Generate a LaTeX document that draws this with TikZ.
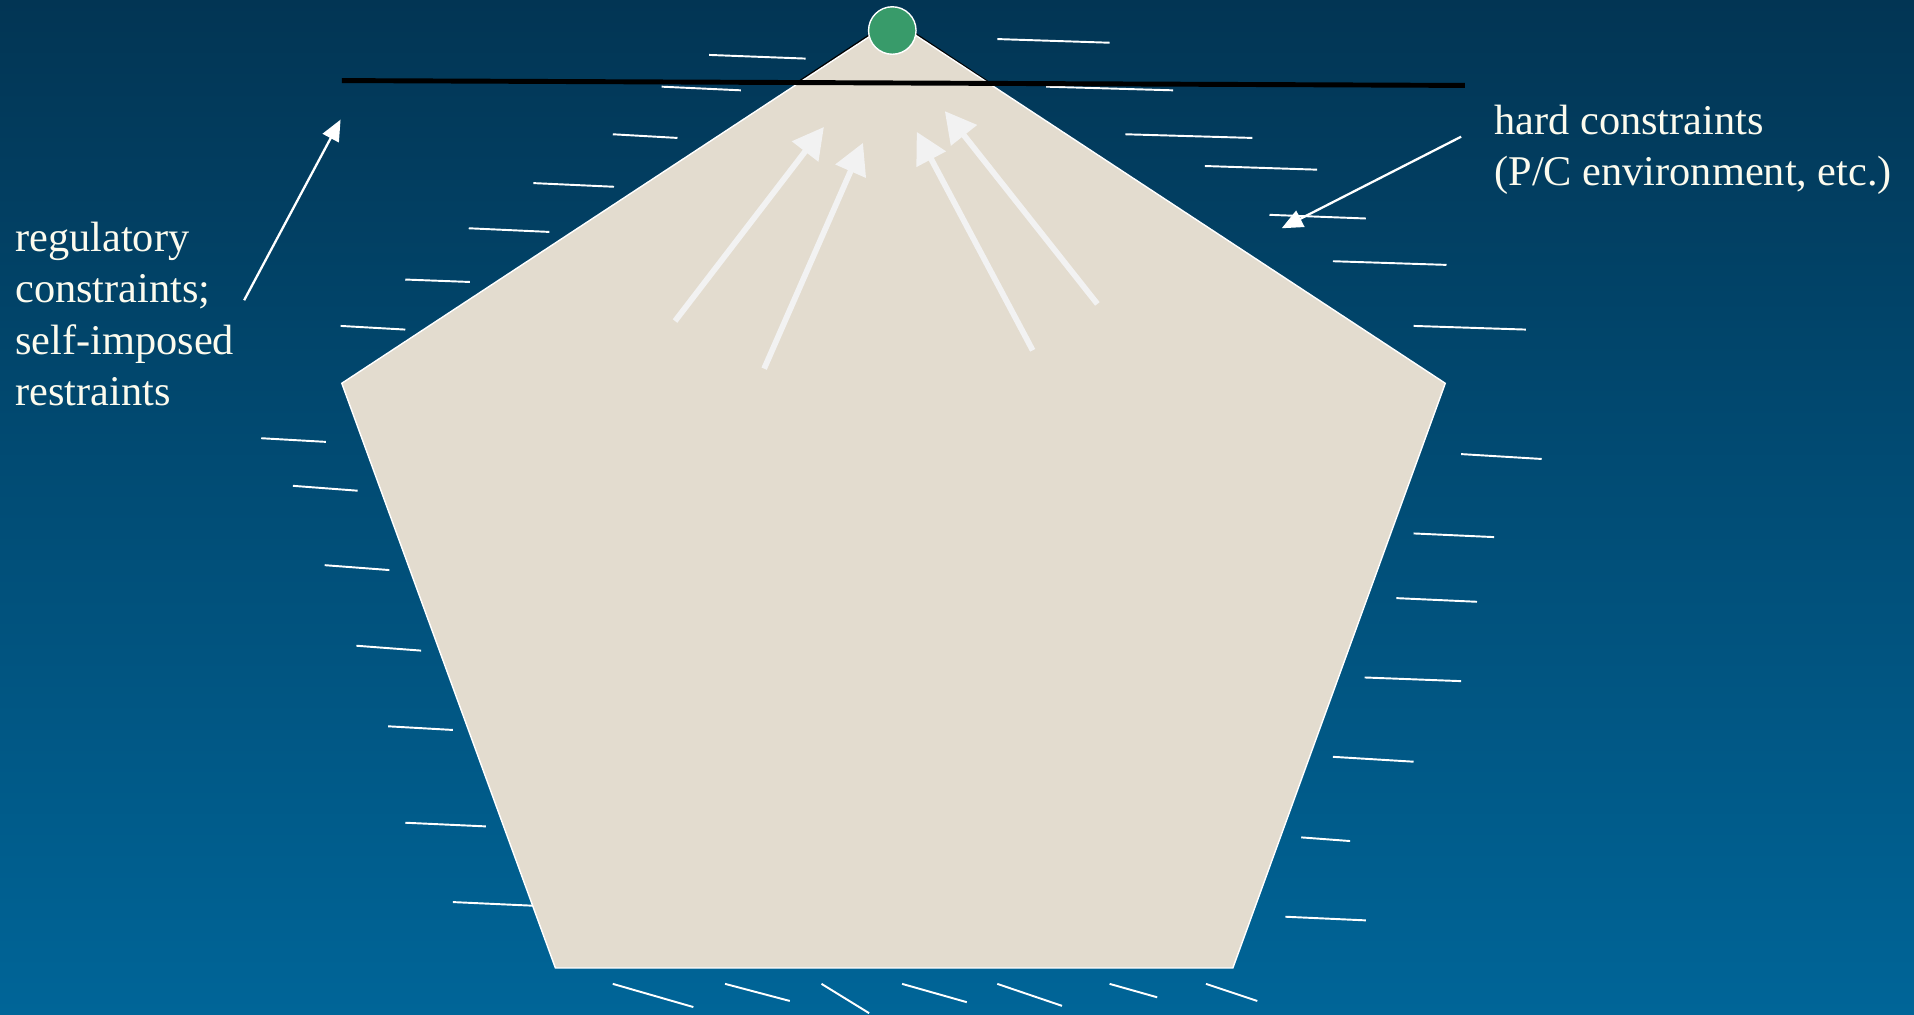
\documentclass[tikz,border=0pt]{standalone}
\usepackage{fontspec}
\setmainfont{Liberation Serif}
\usetikzlibrary{arrows.meta}
\definecolor{bgTop}{RGB}{2,53,84}
\definecolor{bgBot}{RGB}{0,101,152}
\definecolor{sandF}{RGB}{227,220,207}
\definecolor{dotG}{RGB}{56,155,106}
\definecolor{txtW}{RGB}{252,251,238}
\definecolor{arrW}{RGB}{242,242,242}

\begin{document}
\begin{tikzpicture}[x=0.024414cm,y=-0.024414cm]
  \tikzset{hatch/.style={white,line width=1.1pt},
    push/.style={-{Triangle[length=0.62cm,width=0.64cm]},arrW,line width=3.3pt},
    note/.style={-{Triangle[length=0.42cm,width=0.36cm]},white,line width=1.3pt},
    lbl/.style={txtW,inner sep=0pt,anchor=north west,align=left,font=\fontsize{24.1}{29.2}\selectfont}}
  \useasboundingbox (0,0) rectangle (1568,831);
  \shade[top color=bgTop,bottom color=bgBot] (0,0) rectangle (1568,831);
  \foreach \xa/\ya/\xb/\yb in {581/45/660/48,817/32/909/35,542/71/607/74,857/71/961/74,502/110/555/113,922/110/1026/113,437/150/503/153,987/136/1079/139,384/187/450/190,1040/176/1119/179,332/229/385/231,1092/214/1185/217,279/267/332/270,1158/267/1250/270,
    214/359/267/362,240/398/293/402,266/463/319/467,292/529/345/533,318/595/371/598,332/674/398/677,371/739/437/742,
    1197/372/1263/376,1158/437/1224/440,1144/490/1210/493,1118/555/1197/558,1092/620/1158/624,1066/686/1106/689,1053/751/1119/754,
    502/806/568/825,594/806/647/820,673/806/712/830,739/806/792/821,817/806/870/824,909/806/948/817,988/806/1030/820} {
    \draw[hatch] (\xa,\ya) -- (\xb,\yb);
  }
  \coordinate (apex) at (732,17);
  \coordinate (pR) at (1184,314);
  \coordinate (pBR) at (1010,793);
  \coordinate (pBL) at (455,793);
  \coordinate (pL) at (280,314);
  \draw[black,line width=2.4pt] (656,67) -- (apex) -- (809,68);
  \filldraw[fill=sandF,draw=white,line width=0.8pt] (apex) -- (pR) -- (pBR) -- (pBL) -- (pL) -- cycle;
  \coordinate (barL) at (280,66);
  \coordinate (barR) at (1200,70);
  \draw[black,line width=2.8pt] (barL) -- (barR);
  \node[circle,fill=dotG,draw=white,line width=0.8pt,minimum size=0.95cm,inner sep=0pt] (dot) at (731,25) {};
  \coordinate (t1) at (553,263); \coordinate (h1) at (675,104);
  \coordinate (t2) at (626,302); \coordinate (h2) at (707,117);
  \coordinate (t3) at (846,287); \coordinate (h3) at (751,108);
  \coordinate (t4) at (899,249); \coordinate (h4) at (774,91);
  \foreach \a/\b in {t1/h1,t2/h2,t3/h3,t4/h4} {
    \draw[push] (\a) -- (\b);
  }
  \node[lbl] (reg) at (12.3,181.6) {regulatory\\constraints;\\self-imposed\\restraints};
  \node[lbl] (hard) at (1224,85.5) {hard constraints\\(P/C environment, etc.)};
  \coordinate (regT) at (200,246); \coordinate (regH) at (279,98);
  \coordinate (hardT) at (1197,112); \coordinate (hardH) at (1050,187);
  \draw[note] (regT) -- (regH);
  \draw[note] (hardT) -- (hardH);
\end{tikzpicture}
\end{document}
